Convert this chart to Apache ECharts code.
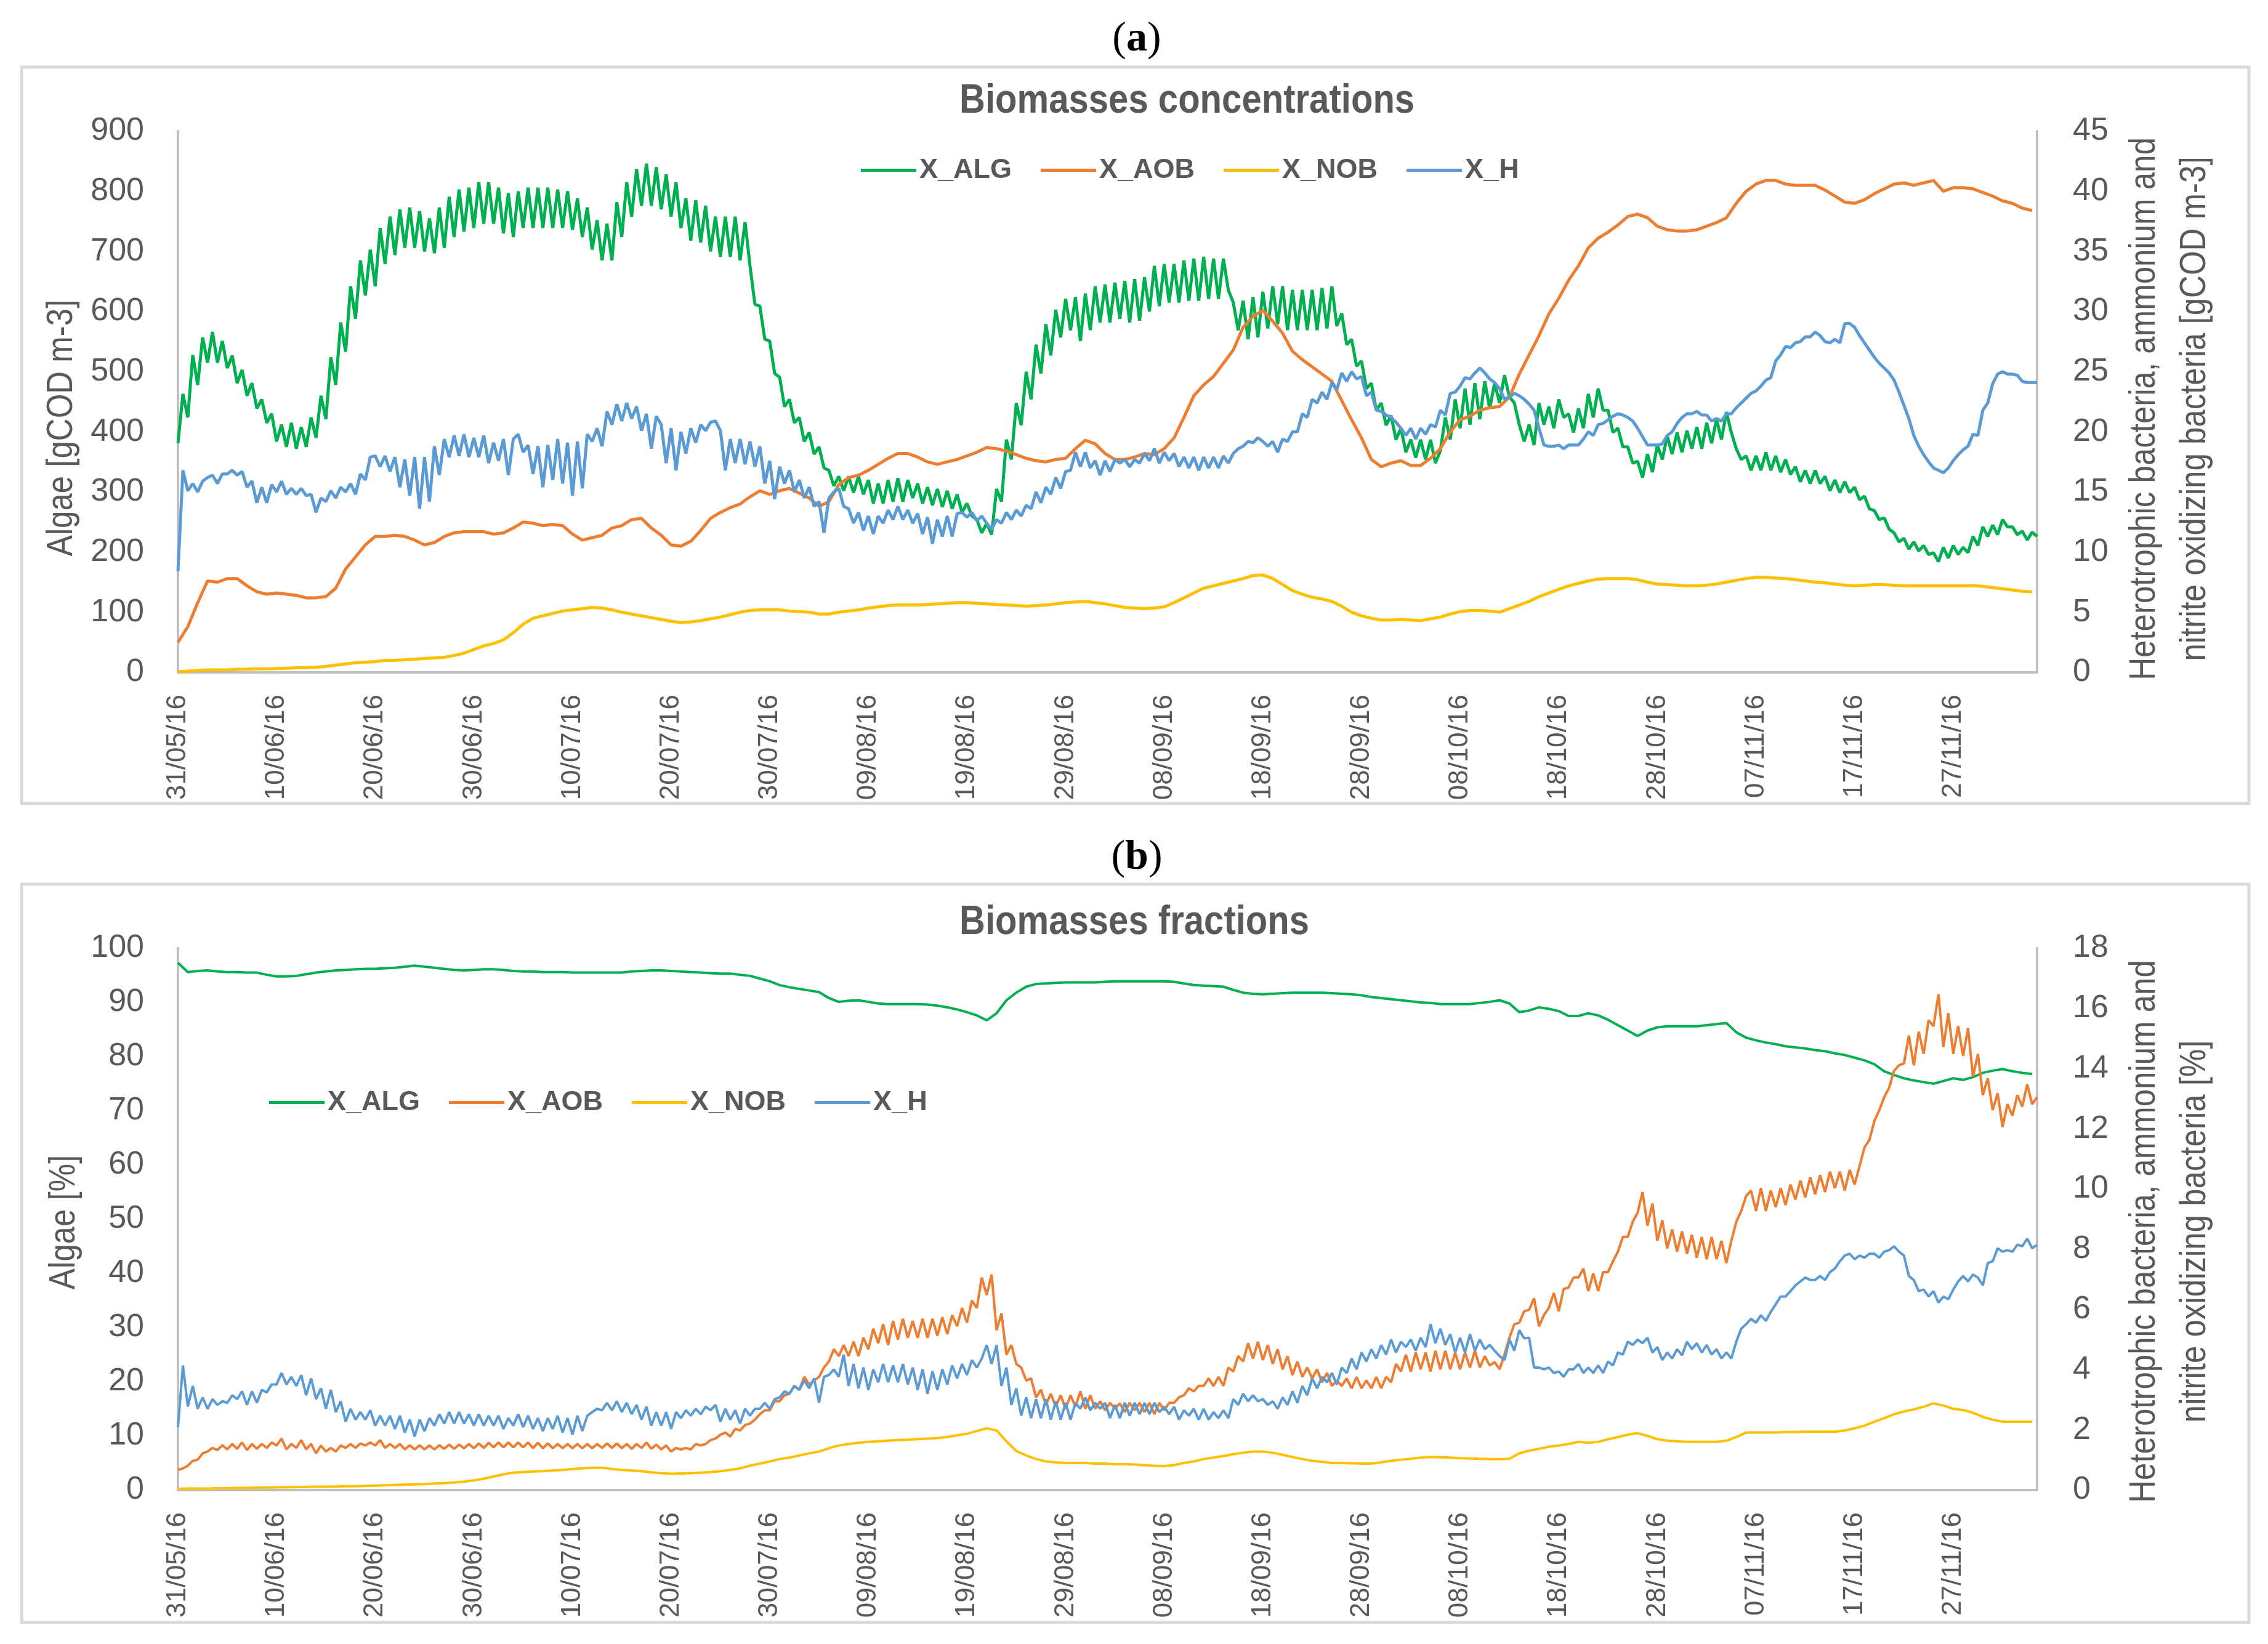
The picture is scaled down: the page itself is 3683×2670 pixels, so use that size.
<!DOCTYPE html>
<html><head><meta charset="utf-8">
<script src="https://cdn.jsdelivr.net/npm/echarts@6/dist/echarts.min.js"></script>
<style>html,body{margin:0;padding:0;background:#fff;} #c{width:3683px;height:2670px;}</style>
</head><body><div id="c"></div>
<script>
// x tick labels (every 10 days from 31/05/16)
const dateTicks = ['31/05/16','10/06/16','20/06/16','30/06/16','10/07/16','20/07/16','30/07/16','09/08/16','19/08/16','29/08/16','08/09/16','18/09/16','28/09/16','08/10/16','18/10/16','28/10/16','07/11/16','17/11/16','27/11/16'];
const seriesNames = ['X_ALG','X_AOB','X_NOB','X_H'];

// (a) Biomasses concentrations — half-day samples (algae, left axis gCOD m-3)
const algA = [
381,463,424,528,478,557,515,566,515,551,506,527,481,503,460,481,439,454,415,430,
384,412,375,415,372,408,375,424,390,460,421,524,478,582,533,642,588,685,627,703,
642,739,679,758,694,770,706,773,706,767,700,755,697,773,706,791,724,803,733,806,
739,815,746,815,746,806,730,797,724,800,739,806,739,806,739,806,739,803,739,800,
736,788,724,773,703,752,685,746,685,782,724,815,758,837,776,846,
776,840,770,828,758,815,739,788,718,785,715,776,700,758,691,758,691,758,685,749,
676,612,609,554,551,497,491,442,454,415,424,384,399,363,375,340,336,310,326,302,
326,299,326,296,320,281,314,281,320,284,323,284,320,290,314,281,308,278,305,275,
302,272,296,266,281,260,254,232,248,229,305,284,387,354,448,411,500,454,545,497,
579,527,603,557,621,569,624,551,630,569,642,582,645,582,648,588,
651,582,654,585,657,600,676,609,679,615,679,615,685,618,688,618,691,621,688,621,
688,636,615,569,618,554,624,557,633,572,642,579,642,569,636,569,636,569,636,569,
639,572,642,576,
597,545,554,509,518,472,481,436,448,411,427,387,406,366,387,357,387,354,387,348,
369,424,387,454,406,472,412,481,421,484,439,481,448,494,458,448,412,384,412,378,
448,412,442,406,454,424,430,399,
439,406,463,424,472,436,436,399,406,375,375,348,351,324,363,333,378,354,393,363,
399,366,402,372,408,372,415,381,421,387,433,399,372,354,360,336,360,336,366,336,
360,333,354,329,342,317,336,314,336,314,326,302,320,299,317,299,308,287,293,272,
269,254,257,238,232,217,223,205,217,202,211,196,199,184,208,190,211,196,208,199,
226,211,242,226,245,229,254,242,242,229,235,220,233,226];

// (a) heterotrophs, half-day samples (right axis gCOD m-3)
const hA = [
8.4,16.8,15.1,15.7,15.0,15.9,16.2,16.4,15.7,16.5,16.5,16.8,16.4,16.7,15.4,15.9,14.1,15.4,14.1,15.6,
15.0,15.9,14.8,15.3,14.8,15.3,14.7,14.8,13.3,14.5,14.2,15.1,14.5,15.4,15.0,15.7,14.8,16.5,16.0,17.9,
18.0,17.1,18.0,16.7,17.9,15.4,17.7,14.7,17.9,13.6,17.9,14.2,18.8,16.4,19.4,17.9,19.7,18.0,19.8,17.9,
19.5,17.9,19.7,17.4,19.1,17.6,19.4,16.4,19.4,19.8,18.3,18.9,16.5,18.8,15.4,18.9,16.0,19.4,15.7,19.1,
14.7,19.2,15.3,19.8,19.2,20.3,18.8,21.7,20.6,22.3,20.9,22.4,21.1,22.1,20.1,21.5,18.6,
21.3,20.6,17.4,20.3,16.8,20.0,18.2,20.3,19.1,20.6,20.1,20.8,20.9,20.1,16.8,19.4,17.4,19.4,17.3,19.2,
17.1,18.8,15.7,17.6,14.4,17.1,15.7,16.8,15.0,16.0,14.5,15.4,13.8,14.2,11.6,14.5,15.0,15.3,13.8,13.6,
12.4,13.3,11.8,13.0,11.5,13.0,12.4,13.5,12.7,13.8,12.7,13.5,12.4,13.2,11.5,12.9,10.7,12.7,11.3,13.0,
11.3,13.2,13.3,12.9,13.3,12.6,13.0,12.4,11.9,12.7,12.4,13.3,12.7,13.5,13.0,13.9,13.6,15.0,14.1,15.4,
14.8,16.2,15.3,16.7,16.8,18.3,17.1,18.3,17.0,17.6,16.4,17.6,16.7,17.7,17.4,
17.7,17.1,17.7,17.4,18.2,17.6,18.6,17.4,18.3,17.6,18.2,17.1,17.9,17.0,17.9,16.8,17.9,17.0,17.9,17.0,
18.0,17.4,18.2,18.6,18.8,19.2,19.1,19.5,19.2,18.8,19.2,18.3,19.4,19.2,20.0,20.0,21.5,21.2,22.7,22.4,
23.3,22.7,24.1,23.5,24.9,24.2,25.0,24.4,24.6,23.0,23.3,21.8,21.7,21.4,21.2,20.8,20.3,19.7,20.3,19.4,
20.3,19.8,20.6,20.4,21.8,21.4,23.2,23.3,23.8,24.5,24.4,24.9,25.3,24.9,24.4,24.1,23.6,22.7,22.9,23.2,
23.0,22.7,22.3,21.8,20.3,18.9,18.8,18.8,18.9,18.6,18.9,18.9,
18.9,19.4,20.0,19.7,20.6,20.7,21.0,21.3,21.5,21.4,21.2,20.9,20.3,19.6,18.9,18.9,18.9,19.0,19.7,20.0,
20.7,21.2,21.5,21.5,21.7,21.4,21.4,20.9,21.1,20.9,21.5,21.5,22.0,22.4,22.8,23.2,23.4,23.8,24.3,24.5,
25.9,26.4,27.1,27.0,27.4,27.5,27.9,27.9,28.3,28.0,27.5,27.4,27.7,27.4,29.0,29.0,28.7,28.0,27.4,26.8,
26.2,25.7,25.3,24.9,24.3,23.3,22.2,21.1,19.7,18.8,18.1,17.5,17.0,16.8,16.6,17.0,17.6,18.1,18.5,18.8,
19.8,19.7,21.8,22.4,24.0,24.8,25.0,24.8,24.8,24.7,24.2,24.1,24.1,24.1];

// (a) ammonium oxidizers, daily (right axis)
const aobA = [
2.5,3.8,5.8,7.6,7.5,7.8,7.8,7.2,6.7,6.5,6.6,6.5,6.4,6.2,6.2,6.3,7.0,8.6,9.6,10.6,
11.3,11.3,11.4,11.3,11.0,10.6,10.8,11.3,11.6,11.7,11.7,11.7,11.5,11.6,12.0,12.5,12.4,12.2,12.3,12.2,
11.5,11.0,11.2,11.4,12.0,12.2,12.7,12.8,12.0,11.4,10.6,10.5,10.9,11.8,12.8,13.3,13.7,14.0,14.6,15.1,
14.8,15.1,15.3,14.9,14.5,13.8,14.2,15.6,16.2,16.4,16.8,17.3,17.8,18.2,18.2,17.9,17.5,17.3,17.5,17.7,
18.0,18.3,18.7,18.6,18.4,18.1,17.8,17.6,17.5,17.7,17.8,18.6,19.3,19.0,18.2,17.7,17.7,17.9,18.2,18.1,
18.6,19.5,21.2,23.0,23.9,24.6,25.7,26.8,28.7,29.6,30.1,29.2,28.2,26.7,26.0,25.4,24.8,24.2,22.6,21.0,
19.5,17.7,17.1,17.4,17.6,17.2,17.2,17.8,18.6,20.0,21.0,21.3,21.8,22.0,22.1,22.9,24.8,26.4,28.0,29.8,
31.1,32.6,33.8,35.3,36.1,36.6,37.2,37.9,38.1,37.8,37.1,36.8,36.7,36.7,36.8,37.1,37.4,37.8,39.0,40.0,
40.6,40.9,40.9,40.6,40.5,40.5,40.5,40.1,39.6,39.1,39.0,39.3,39.8,40.2,40.6,40.7,40.5,40.7,40.9,40.0,
40.3,40.3,40.2,39.9,39.6,39.2,39.0,38.6,38.4];

// (a) nitrite oxidizers, daily (right axis)
const nobA = [
0.05,0.1,0.15,0.2,0.2,0.22,0.25,0.27,0.3,0.3,0.32,0.35,0.38,0.4,0.42,0.5,0.6,0.7,0.8,0.85,
0.9,1.0,1.0,1.05,1.1,1.15,1.2,1.25,1.4,1.6,1.9,2.2,2.4,2.7,3.3,4.0,4.5,4.7,4.9,5.1,
5.2,5.3,5.4,5.35,5.2,5.0,4.85,4.7,4.55,4.4,4.25,4.15,4.2,4.3,4.45,4.6,4.8,5.0,5.15,5.2,
5.2,5.2,5.1,5.05,5.0,4.85,4.85,5.0,5.1,5.2,5.35,5.45,5.55,5.6,5.6,5.6,5.65,5.7,5.75,5.8,
5.8,5.75,5.7,5.65,5.6,5.55,5.5,5.55,5.6,5.7,5.8,5.85,5.9,5.8,5.7,5.55,5.4,5.35,5.3,5.35,
5.45,5.8,6.2,6.6,7.0,7.2,7.4,7.6,7.8,8.05,8.1,7.8,7.3,6.8,6.5,6.25,6.1,5.9,5.5,5.0,
4.7,4.5,4.35,4.35,4.4,4.35,4.3,4.45,4.6,4.85,5.05,5.15,5.15,5.1,5.0,5.3,5.6,5.9,6.3,6.6,
6.9,7.2,7.4,7.6,7.75,7.8,7.8,7.8,7.7,7.5,7.35,7.3,7.25,7.2,7.2,7.25,7.35,7.5,7.65,7.8,
7.9,7.9,7.85,7.8,7.7,7.6,7.5,7.45,7.35,7.25,7.2,7.25,7.3,7.3,7.25,7.2,7.2,7.2,7.2,7.2,
7.2,7.2,7.2,7.15,7.05,6.95,6.85,6.75,6.7];

// (b) Biomasses fractions — algae %, daily (left axis)
const algB = [
97.3,95.6,95.8,95.9,95.7,95.6,95.6,95.5,95.5,95.1,94.8,94.8,94.9,95.2,95.5,95.7,95.9,96.0,96.1,96.2,
96.2,96.3,96.4,96.6,96.8,96.6,96.4,96.2,96.0,95.9,96.0,96.1,96.1,96.0,95.8,95.7,95.7,95.6,95.6,95.6,
95.5,95.5,95.5,95.5,95.5,95.5,95.7,95.8,95.9,95.9,95.8,95.7,95.6,95.5,95.4,95.3,95.3,95.1,94.9,94.4,
93.9,93.2,92.8,92.5,92.2,91.9,90.8,90.1,90.3,90.4,90.1,89.8,89.7,89.7,89.7,89.7,89.6,89.4,89.1,88.7,
88.2,87.6,86.7,88.0,90.4,91.8,92.9,93.4,93.5,93.6,93.7,93.7,93.7,93.7,93.8,93.9,93.9,93.9,93.9,93.9,
93.9,93.8,93.5,93.2,93.1,93.0,92.9,92.3,91.8,91.6,91.5,91.6,91.7,91.8,91.8,91.8,91.8,91.7,91.6,91.5,
91.3,91.0,90.8,90.6,90.4,90.2,90.0,89.9,89.7,89.7,89.7,89.7,89.9,90.1,90.4,89.8,88.2,88.5,89.1,88.8,
88.4,87.5,87.5,88.0,87.6,86.8,85.8,84.8,83.8,84.8,85.4,85.6,85.6,85.6,85.6,85.8,86.0,86.2,84.5,83.5,
83.0,82.6,82.3,81.9,81.7,81.5,81.2,81.0,80.6,80.3,79.8,79.3,78.6,77.3,76.6,76.0,75.6,75.3,75.0,75.5,
76.0,75.7,76.2,77.0,77.4,77.7,77.3,77.0,76.8];

// (b) ammonium oxidizers %, half-day samples (right axis)
const aobB = [
0.67,0.72,0.81,0.97,1.01,1.22,1.28,1.40,1.33,1.49,1.35,1.53,1.37,1.58,1.33,1.53,1.37,1.53,1.40,1.58,
1.48,1.71,1.35,1.53,1.40,1.66,1.35,1.53,1.22,1.48,1.28,1.40,1.28,1.48,1.40,1.53,1.40,1.55,1.48,1.58,
1.48,1.66,1.40,1.53,1.40,1.53,1.35,1.49,1.35,1.49,1.35,1.48,1.35,1.49,1.37,1.51,1.37,1.51,1.39,1.53,
1.39,1.55,1.40,1.57,1.42,1.58,1.42,1.58,1.42,1.58,1.42,1.58,1.40,1.57,1.39,1.55,1.39,1.53,1.39,1.53,
1.39,1.53,1.39,1.53,1.39,1.53,1.40,1.55,1.40,1.55,1.39,1.53,1.37,1.53,1.40,1.58,1.37,1.51,1.35,1.48,
1.28,1.40,1.35,1.40,1.35,1.53,1.48,1.53,1.66,1.71,1.84,1.91,1.78,2.03,1.98,2.16,2.21,2.34,2.52,2.65,
2.65,2.95,2.95,3.15,3.20,3.46,3.33,3.76,3.51,3.64,3.76,4.07,4.27,4.68,4.45,4.82,4.45,4.93,4.45,5.06,
4.68,5.36,4.88,5.51,4.82,5.62,5.00,5.69,5.06,5.62,5.06,5.69,5.06,5.69,5.13,5.74,5.18,5.81,5.44,6.05,
5.56,6.30,6.05,7.06,6.48,7.16,5.31,5.87,4.50,4.82,4.19,4.07,3.64,3.71,3.08,3.33,2.83,3.20,2.77,3.15,
2.70,3.15,2.77,3.28,2.70,3.15,2.70,2.95,2.65,2.90,2.70,2.88,2.59,2.90,2.65,2.90,2.59,2.90,2.52,2.90,
2.65,2.90,2.90,3.08,3.15,3.38,3.28,3.46,3.46,3.71,3.46,3.76,3.46,4.07,3.94,4.45,4.27,4.88,4.37,4.93,
4.32,4.82,4.19,4.68,4.01,4.45,3.82,4.27,3.76,4.07,3.71,4.01,3.58,3.89,3.46,3.64,3.46,3.71,3.38,3.76,
3.38,3.64,3.38,3.76,3.38,3.76,3.58,4.19,3.94,4.50,3.94,4.57,4.01,4.57,3.94,4.63,4.01,4.63,4.01,4.57,
4.01,4.57,4.07,4.63,4.07,4.45,4.14,4.25,4.01,4.50,5.06,5.51,5.56,5.94,5.99,6.37,5.44,5.81,6.05,6.55,
5.94,6.68,6.73,7.06,7.06,7.36,6.61,7.20,6.61,7.24,7.24,7.60,7.92,8.41,8.41,8.91,9.22,9.90,8.78,9.52,
8.28,8.96,8.03,8.66,7.92,8.59,7.85,8.48,7.72,8.41,7.67,8.41,7.67,8.28,7.54,8.28,8.91,9.27,9.77,9.95,
9.27,10.03,9.27,9.95,9.40,10.03,9.47,10.15,9.65,10.28,9.72,10.39,9.83,10.46,9.90,10.58,10.03,10.58,9.95,10.64,
10.15,10.76,11.38,11.63,12.26,12.62,13.05,13.37,13.93,14.11,14.17,15.10,14.11,15.23,14.49,15.61,15.41,16.47,14.72,15.84,
14.49,15.41,14.42,15.35,13.73,14.49,13.12,13.68,12.62,13.18,12.06,12.82,12.44,13.12,12.74,13.48,12.82,13.05];

// (b) nitrite oxidizers %, daily (right axis)
const nobB = [
0.04,0.05,0.05,0.05,0.06,0.06,0.07,0.07,0.08,0.08,0.09,0.09,0.1,0.1,0.11,0.11,0.12,0.13,0.13,0.14,
0.15,0.16,0.17,0.18,0.19,0.2,0.22,0.23,0.25,0.28,0.32,0.38,0.45,0.52,0.58,0.6,0.62,0.63,0.65,0.67,
0.7,0.72,0.74,0.74,0.7,0.67,0.65,0.63,0.59,0.56,0.54,0.55,0.56,0.58,0.6,0.63,0.67,0.72,0.81,0.88,
0.95,1.03,1.08,1.15,1.22,1.28,1.39,1.48,1.53,1.57,1.6,1.62,1.64,1.66,1.67,1.69,1.71,1.73,1.76,1.82,
1.87,1.96,2.05,1.98,1.62,1.3,1.15,1.03,0.95,0.92,0.9,0.9,0.9,0.88,0.88,0.86,0.86,0.85,0.83,0.81,
0.8,0.83,0.9,0.95,1.03,1.08,1.13,1.19,1.24,1.28,1.28,1.24,1.17,1.1,1.03,0.97,0.94,0.9,0.9,0.89,
0.88,0.88,0.92,0.97,1.01,1.04,1.08,1.1,1.09,1.08,1.06,1.05,1.04,1.03,1.03,1.04,1.22,1.31,1.37,1.44,
1.48,1.53,1.6,1.57,1.6,1.69,1.76,1.84,1.89,1.8,1.69,1.64,1.62,1.6,1.6,1.6,1.6,1.64,1.76,1.91,
1.91,1.91,1.91,1.93,1.93,1.94,1.94,1.94,1.94,1.98,2.05,2.14,2.27,2.39,2.52,2.61,2.68,2.77,2.88,2.81,
2.7,2.66,2.57,2.43,2.34,2.27,2.27,2.27,2.27];

// (b) heterotrophs %, half-day samples (right axis)
const hB = [
2.09,4.14,2.77,3.46,2.70,3.08,2.70,3.02,2.83,2.95,2.90,3.15,3.02,3.28,2.83,3.28,2.90,3.33,3.24,3.51,
3.51,3.89,3.51,3.76,3.46,3.82,3.15,3.71,3.02,3.38,2.70,3.33,2.59,2.95,2.27,2.70,2.34,2.59,2.34,2.65,
2.14,2.47,2.14,2.47,2.03,2.47,1.91,2.34,1.78,2.34,1.96,2.39,2.14,2.52,2.21,2.59,2.21,2.59,2.21,2.52,
2.14,2.52,2.14,2.47,2.14,2.47,2.03,2.39,2.14,2.52,2.09,2.47,2.03,2.39,1.96,2.39,2.03,2.47,1.91,2.39,
1.84,2.47,1.96,2.47,2.59,2.70,2.65,2.90,2.65,2.95,2.59,2.90,2.52,2.83,2.34,2.77,2.14,2.59,2.14,2.59,
2.03,2.59,2.39,2.65,2.47,2.70,2.52,2.77,2.65,2.83,2.27,2.70,2.34,2.65,2.21,2.70,2.47,2.70,2.70,2.90,
2.70,3.02,3.08,3.28,3.20,3.46,3.33,3.64,3.38,3.71,2.90,3.76,3.82,4.01,3.76,4.50,3.46,4.19,3.38,4.07,
3.33,4.01,3.58,4.19,3.58,4.14,3.58,4.19,3.51,4.07,3.33,4.01,3.20,3.94,3.33,4.01,3.51,4.14,3.71,4.19,
3.82,4.32,4.07,4.37,4.82,4.19,4.82,3.46,4.07,2.83,3.38,2.47,3.08,2.39,3.02,2.39,3.02,2.34,2.95,2.34,
2.90,2.34,2.90,2.70,3.08,2.65,2.90,2.70,2.90,2.39,2.83,2.39,2.90,2.47,2.90,2.52,2.90,2.52,2.90,2.59,
2.77,2.52,2.77,2.34,2.65,2.47,2.70,2.34,2.70,2.34,2.59,2.39,2.65,2.39,3.02,2.83,3.20,2.95,3.15,2.95,
3.02,2.83,2.95,2.70,3.08,2.83,3.28,2.90,3.46,3.15,3.71,3.38,3.76,3.58,3.89,3.51,4.07,3.89,4.37,4.01,
4.57,4.27,4.68,4.37,4.82,4.50,5.00,4.57,4.93,4.75,5.00,4.63,5.06,4.75,5.51,4.88,5.36,4.82,5.18,4.57,
5.06,4.57,5.18,4.63,5.00,4.68,4.82,4.63,4.45,4.32,5.00,4.63,5.31,5.04,5.06,4.07,4.07,4.01,4.07,3.89,
3.94,3.76,4.01,4.01,4.19,3.89,4.07,3.89,4.14,3.89,4.27,4.14,4.57,4.50,4.93,4.82,5.00,4.88,5.06,4.57,
4.75,4.32,4.57,4.37,4.68,4.48,4.93,4.68,4.88,4.57,4.82,4.50,4.68,4.37,4.57,4.37,4.93,5.36,5.51,5.69,
5.56,5.81,5.62,5.92,6.17,6.43,6.43,6.61,6.80,6.93,7.06,6.98,6.98,7.11,6.98,7.24,7.36,7.60,7.79,7.85,
7.67,7.79,7.72,7.85,7.85,7.72,7.92,7.97,8.10,7.92,7.79,7.11,6.98,6.61,6.66,6.43,6.61,6.23,6.43,6.34,
6.66,6.93,7.11,6.93,7.16,7.06,6.80,7.54,7.60,8.03,7.92,7.97,7.92,8.15,8.10,8.35,8.03,8.15];

const colors = {X_ALG:'#00B050', X_AOB:'#ED7D31', X_NOB:'#FFC000', X_H:'#5B9BD5'};
const FN = "'Liberation Sans','Arial',sans-serif";
const TXT = '#595959';
const AX = '#BFBFBF';
const half = a => a.map((v, i) => [i * 0.5, v]);
const daily = a => a.map((v, i) => [i, v]);

function xAxis(gi) {
  return { type: 'value', gridIndex: gi, min: 0, max: 188.5, interval: 10,
    axisLine: { show: true, onZero: false, lineStyle: { color: AX, width: 4 } },
    axisTick: { show: false }, splitLine: { show: false },
    axisLabel: { rotate: 90, margin: 36, color: TXT, fontFamily: FN, fontSize: 44,
      showMaxLabel: false,
      formatter: v => (Math.abs(v % 10) < 1e-6 && dateTicks[Math.round(v / 10)]) ? dateTicks[Math.round(v / 10)] : '' } };
}
function yAxis(gi, pos, max, interval, margin) {
  return { type: 'value', gridIndex: gi, position: pos, min: 0, max: max, interval: interval,
    axisLine: { show: true, lineStyle: { color: AX, width: 4 } },
    axisTick: { show: false }, splitLine: { show: false },
    axisLabel: { color: TXT, fontFamily: FN, fontSize: 52, margin: margin } };
}
function line(name, xi, yi, data, w) {
  return { name: name, type: 'line', xAxisIndex: xi, yAxisIndex: yi, data: data,
    showSymbol: false, symbol: 'none', smooth: false, z: 3,
    lineStyle: { width: w, color: colors[name] }, itemStyle: { color: colors[name] } };
}
function legend(left, top) {
  return { data: seriesNames, left: left, top: top, orient: 'horizontal',
    icon: 'rect', itemWidth: 90, itemHeight: 5, itemGap: 47,
    textStyle: { fontFamily: FN, fontWeight: 'bold', fontSize: 45, color: TXT } };
}
function vtext(x, y, txt) {
  return { type: 'text', x: x, y: y, rotation: Math.PI / 2, scaleX: 0.85, silent: true,
    style: { text: txt, font: '60px ' + FN, fill: TXT, align: 'center', verticalAlign: 'middle' } };
}
function ptext(x, y, letter) {
  return { type: 'text', x: x, y: y, silent: true,
    style: { text: '{p|(}{b|' + letter + '}{p|)}', align: 'center', verticalAlign: 'middle',
      rich: { p: { fontFamily: 'Liberation Serif', fontSize: 68, fill: '#000' },
              b: { fontFamily: 'Liberation Serif', fontSize: 68, fontWeight: 'bold', fill: '#000' } } } };
}
function ttext(y, txt) {
  return { type: 'text', x: 1558, y: y, scaleX: 0.88, silent: true,
    style: { text: txt, font: 'bold 66px ' + FN, fill: TXT, align: 'left', verticalAlign: 'middle' } };
}

const chart = echarts.init(document.getElementById('c'), null, { renderer: 'canvas' });
chart.setOption({
  animation: false,
  backgroundColor: '#ffffff',
  textStyle: { fontFamily: FN },
  grid: [
    { left: 289, top: 213, width: 3019, height: 879 },
    { left: 289, top: 1540, width: 3019, height: 880 }
  ],
  xAxis: [xAxis(0), xAxis(1)],
  yAxis: [
    yAxis(0, 'left', 900, 100, 55),
    yAxis(0, 'right', 45, 5, 58),
    yAxis(1, 'left', 100, 10, 55),
    yAxis(1, 'right', 18, 2, 58)
  ],
  legend: [legend(1393, 249), legend(432, 1763)],
  series: [
    line('X_ALG', 0, 0, half(algA), 5),
    line('X_AOB', 0, 1, daily(aobA), 5),
    line('X_NOB', 0, 1, daily(nobA), 5),
    line('X_H', 0, 1, half(hA), 5),
    line('X_ALG', 1, 2, daily(algB), 4),
    line('X_AOB', 1, 3, half(aobB), 4),
    line('X_NOB', 1, 3, daily(nobB), 4),
    line('X_H', 1, 3, half(hB), 4)
  ],
  graphic: [
    { type: 'rect', silent: true, shape: { x: 35, y: 109, width: 3617, height: 1196 },
      style: { fill: null, stroke: '#D9D9D9', lineWidth: 5 } },
    { type: 'rect', silent: true, shape: { x: 35, y: 1436, width: 3617, height: 1199 },
      style: { fill: null, stroke: '#D9D9D9', lineWidth: 5 } },
    ptext(1846, 64, 'a'),
    ptext(1846, 1393, 'b'),
    ttext(165, 'Biomasses concentrations'),
    ttext(1499, 'Biomasses fractions'),
    vtext(100, 695, 'Algae [gCOD m-3]'),
    vtext(3482, 664, 'Heterotrophic bacteria, ammonium and'),
    vtext(3564, 664, 'nitrite oxidizing bacteria [gCOD m-3]'),
    vtext(104, 1985, 'Algae [%]'),
    vtext(3482, 2000, 'Heterotrophic bacteria, ammonium and'),
    vtext(3564, 2000, 'nitrite oxidizing bacteria [%]')
  ]
});
</script>
</body></html>
